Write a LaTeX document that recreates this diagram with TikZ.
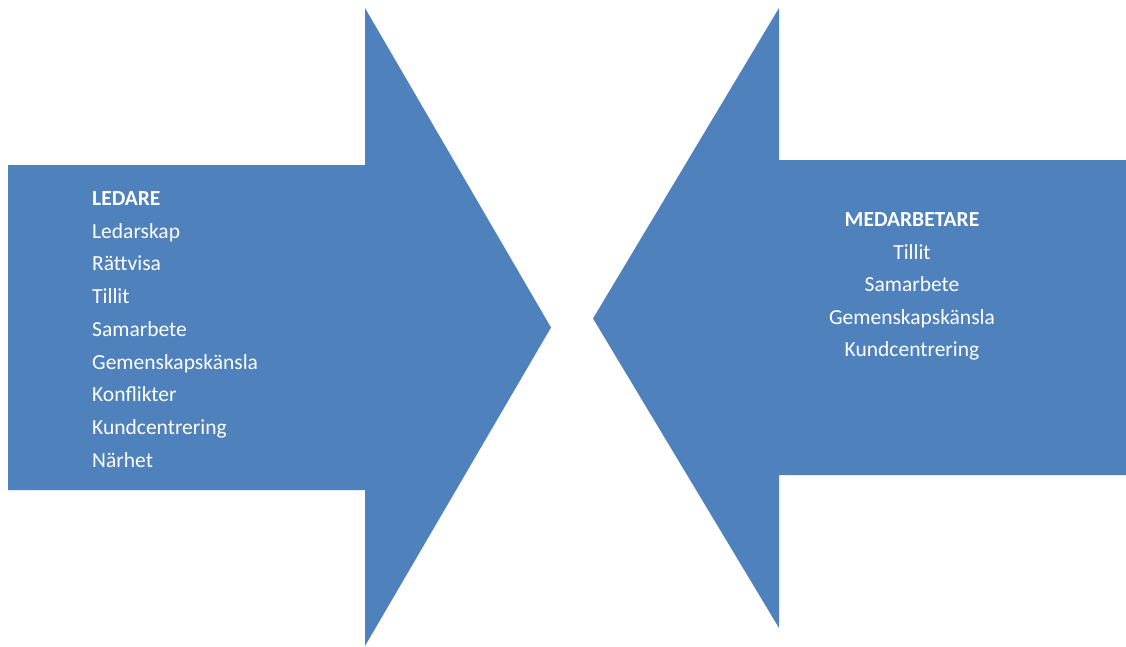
\documentclass[tikz,border=0pt]{standalone}
\usepackage{fontspec}
\setmainfont{Carlito}
\definecolor{arrowblue}{HTML}{4F81BD}
\begin{document}
\begin{tikzpicture}[x=1pt,y=-1pt,
  shapefill/.style={fill=arrowblue,draw=none},
  lbl/.style={text=white,inner sep=0pt,font=\fontsize{21.5}{26}\selectfont},
  lblL/.style={lbl,anchor=base west},
  lblR/.style={lbl,anchor=base}]
\useasboundingbox (0,0) rectangle (1126,646);
% left block arrow pointing right
\fill[shapefill] (8,165) -- (365,165) -- (365,8) -- (551,327.5) -- (365,646)
  -- (365,490) -- (8,490) -- cycle;
% right block arrow pointing left
\fill[shapefill] (1126,160) -- (779,160) -- (779,8) -- (593,318.5) -- (779,628)
  -- (779,475) -- (1126,475) -- cycle;
% left list
\node[lblL,font=\fontsize{21.5}{26}\selectfont\bfseries] (lhead) at (92,205.5) {LEDARE};
\foreach \t [count=\i from 0] in {Ledarskap,R\"attvisa,Tillit,Samarbete,Gemenskapsk\"ansla,Konflikter,Kundcentrering,N\"arhet}{
  \node[lblL] (l\i) at (92,{238.2+32.7*\i}) {\t};
}
% right list
\node[lblR,font=\fontsize{21.5}{26}\selectfont\bfseries] (rhead) at (912,226.5) {MEDARBETARE};
\foreach \t [count=\i from 0] in {Tillit,Samarbete,Gemenskapsk\"ansla,Kundcentrering}{
  \node[lblR] (r\i) at (912,{259.1+32.6*\i}) {\t};
}
\end{tikzpicture}
\end{document}
